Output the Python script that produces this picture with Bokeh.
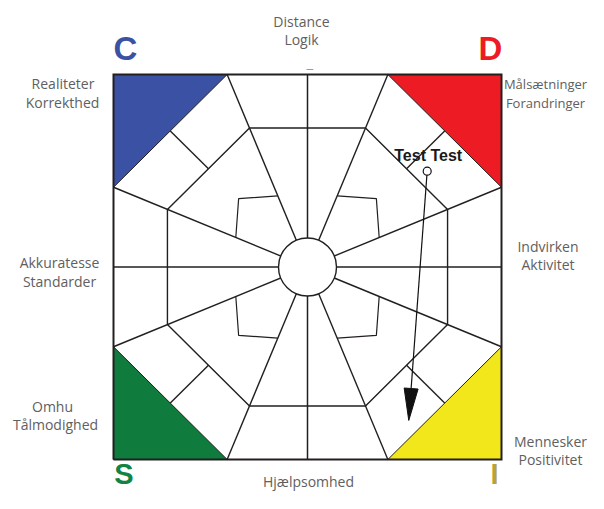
import numpy as np
from bokeh.plotting import figure
from bokeh.models import Range1d, ColumnDataSource
from bokeh.core.properties import value
from bokeh.embed import file_html
from bokeh.resources import INLINE

# ---------------- data ----------------
quadrant_letters = ["C", "D", "S", "I"]
quadrant_fill = ["#3b51a3", "#ed1c24", "#0f7b3d", "#f1e71b"]
letter_colors = ["#3b51a3", "#ed1c24", "#13843f", "#b7a33e"]
quadrant_dir_x = [-1, 1, -1, 1]
quadrant_dir_y = [1, 1, -1, -1]

trait_line1 = ["Distance", "Realiteter", "Målsætninger", "Akkuratesse",
               "Indvirken", "Omhu", "Mennesker", "Hjælpsomhed"]
trait_line2 = ["Logik", "Korrekthed", "Forandringer", "Standarder",
               "Aktivitet", "Tålmodighed", "Positivitet", ""]

point_label = ["Test Test"]
point_start_x = [0.617]
point_start_y = [0.498]
point_end_x = [0.522]
point_end_y = [-0.797]

# ---------------- layout (picture px -> chart units) ----------------
CX, CY, SX, SY = 307.0, 266.5, 194.0, 192.5
def ux(px): return (px - CX) / SX
def uy(py): return (CY - py) / SY

W, H = 588, 493
# intended baselines in picture px
line1_pos = [(301, 27), (62.5, 89), (545, 89), (59, 268),
             (547.5, 252), (52, 412), (550, 447), (308, 487)]
line2_pos = [(301, 45), (62, 108), (545, 108), (59, 287),
             (547.5, 270), (55, 430), (550, 465), (308, 487)]
label_sizes = [14, 14, 13, 14, 14, 14, 14, 14]
letter_pos = [(125, 62), (490, 62), (123.5, 486), (494, 486)]
letter_sizes = [33, 33, 29, 29]
POINT_SIZE = 16
# renderer places alphabetic baseline ~0.42 em lower than asked: compensate
def shift(size): return 0.42 * size

INK = "#231f20"
TXT = "#606060"
t = np.tan(np.radians(22.5))
oct_apothem = 0.722
circle_px = 58

p = figure(width=W, height=H,
           x_range=Range1d(ux(0), ux(W)), y_range=Range1d(uy(H), uy(0)),
           output_backend="svg", toolbar_location=None, min_border=0)
p.axis.visible = False
p.grid.visible = False
p.outline_line_color = None
p.background_fill_color = "white"
p.border_fill_color = "white"

# corner triangles
tri_xs, tri_ys = [], []
for dx, dy in zip(quadrant_dir_x, quadrant_dir_y):
    tri_xs.append([dx, dx * t, dx])
    tri_ys.append([dy, dy, dy * t])
p.patches(tri_xs, tri_ys, fill_color=quadrant_fill, line_color=INK, line_width=1.0)

# axes lines
p.multi_line([[-1, 1], [0, 0]], [[0, 0], [-1, 1]], line_color=INK, line_width=1.5)

# radial spokes
angles = np.radians(22.5 + 45 * np.arange(8))
sp_xs, sp_ys = [], []
for a in angles:
    c, s = np.cos(a), np.sin(a)
    k = 1.0 / max(abs(c), abs(s))
    sp_xs.append([0, c * k])
    sp_ys.append([0, s * k])
p.multi_line(sp_xs, sp_ys, line_color=INK, line_width=1.4)

# octagon
R = oct_apothem / np.cos(np.radians(22.5))
ox = list(R * np.cos(angles)) + [R * np.cos(angles[0])]
oy = list(R * np.sin(angles)) + [R * np.sin(angles[0])]
p.line(ox, oy, line_color=INK, line_width=1.4)

# diagonal short spokes & inner kinks
d_xs, d_ys, k_xs, k_ys = [], [], [], []
r_in = oct_apothem / np.sqrt(2)
r_out = 1.0 / np.sqrt(2)
for dx, dy in zip(quadrant_dir_x, quadrant_dir_y):
    d_xs.append([dx * r_in, dx * r_out])
    d_ys.append([dy * r_in, dy * r_out])
    rs = 0.40
    a1, a2 = np.cos(np.radians(22.5)) * rs, np.sin(np.radians(22.5)) * rs
    k_xs.append([dx * a1, dx * 0.355, dx * a2])
    k_ys.append([dy * a2, dy * 0.355, dy * a1])
p.multi_line(d_xs, d_ys, line_color=INK, line_width=1.4)
p.multi_line(k_xs, k_ys, line_color=INK, line_width=1.2)

# outer square
p.line([-1, 1, 1, -1, -1], [-1, -1, 1, 1, -1], line_color=INK, line_width=2,
       line_join="miter")

# centre circle
p.scatter([0], [0], marker="circle", size=circle_px, fill_color="white",
          line_color=INK, line_width=1.4)

# small top tick
p.segment([-0.005], [uy(69)], [0.03], [uy(69)], line_color="#999999", line_width=1)

# arrow
sx0, sy0, ex, ey = point_start_x[0], point_start_y[0], point_end_x[0], point_end_y[0]
vx, vy = (ex - sx0) * SX, (ey - sy0) * SY
L = np.hypot(vx, vy)
ux_, uy_ = vx / L, vy / L
head_len, head_half = 32, 7
bx, by = ex - ux_ * head_len / SX, ey - uy_ * head_len / SY
px_, py_ = -uy_, ux_
p.segment([sx0], [sy0], [bx], [by], line_color="#111111", line_width=1.2)
p.patch([bx + px_ * head_half / SX, ex, bx - px_ * head_half / SX],
        [by + py_ * head_half / SY, ey, by - py_ * head_half / SY],
        fill_color="#111111", line_color="#111111", line_width=1)
p.scatter(point_start_x, point_start_y, marker="circle", size=8,
          fill_color="white", line_color="#111111", line_width=1.2)
p.text(point_start_x, point_start_y, text=point_label, x_offset=1,
       y_offset=-9 - shift(POINT_SIZE),
       text_align="center", text_baseline="alphabetic",
       text_font=value("Liberation Sans"), text_font_style="bold",
       text_font_size=f"{POINT_SIZE}px", text_color="#1a1a1a")

# trait labels
for pos, txt in ((line1_pos, trait_line1), (line2_pos, trait_line2)):
    src = ColumnDataSource(dict(x=[ux(a) for a, b in pos],
                                y=[uy(b - shift(s)) for (a, b), s in zip(pos, label_sizes)],
                                text=txt, size=[f"{s}px" for s in label_sizes]))
    p.text("x", "y", text="text", source=src, text_align="center",
           text_baseline="alphabetic", text_font=value("Open Sans"),
           text_font_size="size", text_color=TXT)

# quadrant letters
srcL = ColumnDataSource(dict(x=[ux(a) for a, b in letter_pos],
                             y=[uy(b - shift(s)) for (a, b), s in zip(letter_pos, letter_sizes)],
                             text=quadrant_letters, color=letter_colors,
                             size=[f"{s}px" for s in letter_sizes]))
p.text("x", "y", text="text", source=srcL, text_align="center",
       text_baseline="alphabetic", text_font=value("Liberation Sans"),
       text_font_style="bold", text_font_size="size", text_color="color")

open("out.html", "w").write(file_html(p, INLINE))
